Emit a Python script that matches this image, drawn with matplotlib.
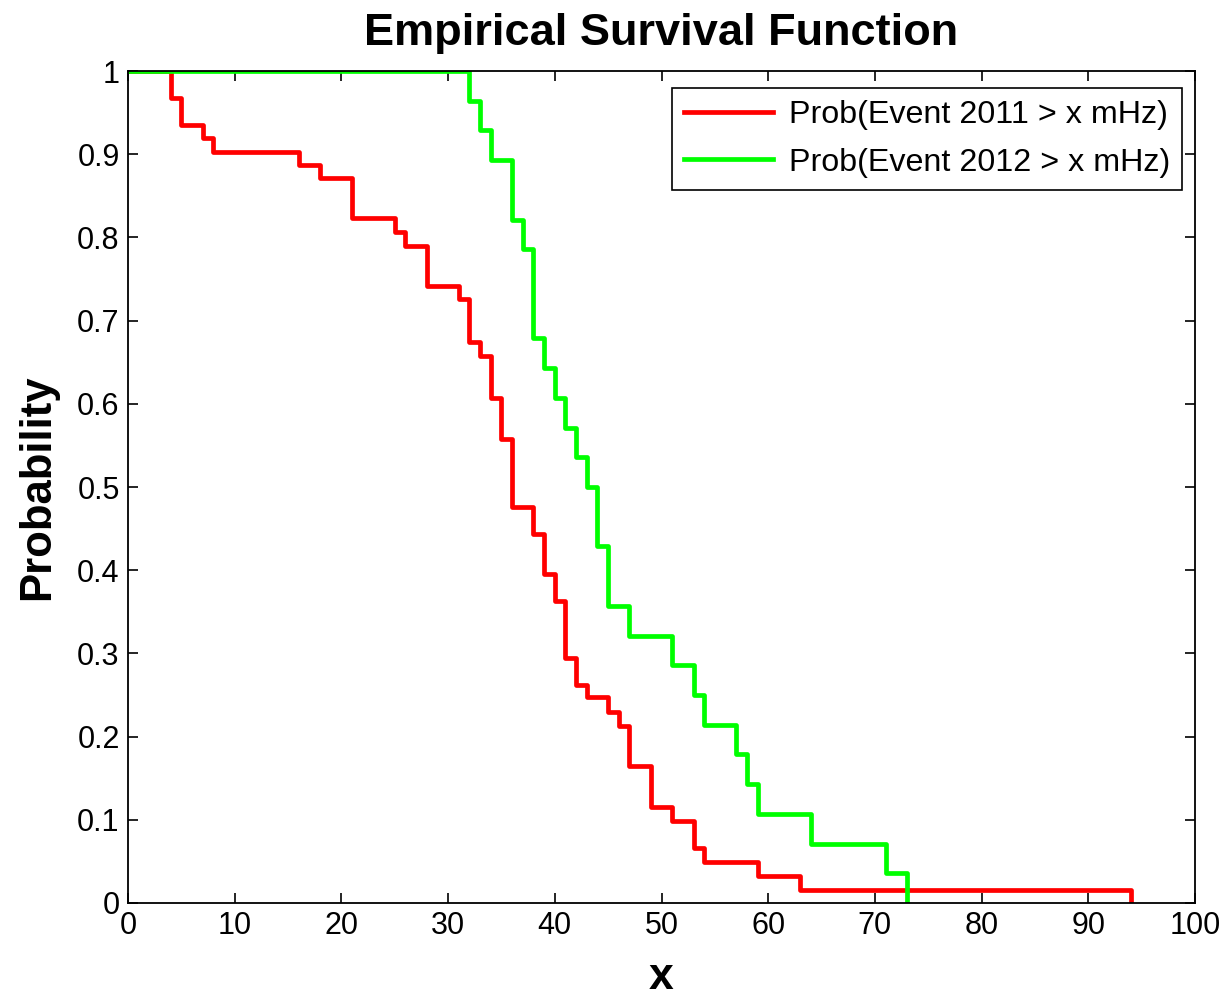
import matplotlib
matplotlib.use("Agg")
import matplotlib.pyplot as plt

plt.rcParams['font.family'] = ['Liberation Sans', 'DejaVu Sans']

# empirical survival steps (x where it drops, level after the drop)
x_2011 = [0, 4, 5, 7, 8, 16, 18, 21, 25, 26, 28, 31, 32, 33, 34, 35, 36, 38,
          39, 40, 41, 42, 43, 45, 46, 47, 49, 51, 53, 54, 59, 63, 94]
s_2011 = [1.0, 0.968, 0.935, 0.919, 0.903, 0.887, 0.871, 0.823, 0.806, 0.790,
          0.742, 0.726, 0.674, 0.658, 0.607, 0.558, 0.476, 0.444, 0.395, 0.363,
          0.294, 0.262, 0.247, 0.230, 0.213, 0.165, 0.115, 0.099, 0.066, 0.049,
          0.033, 0.016, 0.0]

x_2012 = [0, 32, 33, 34, 36, 37, 38, 39, 40, 41, 42, 43, 44, 45, 47, 51, 53,
          54, 57, 58, 59, 64, 71, 73]
s_2012 = [1.0, 0.964, 0.929, 0.893, 0.821, 0.786, 0.679, 0.643, 0.607, 0.571,
          0.536, 0.500, 0.429, 0.357, 0.321, 0.286, 0.250, 0.214, 0.179, 0.143,
          0.107, 0.071, 0.036, 0.0]

labels = ['Prob(Event 2011 > x mHz)', 'Prob(Event 2012 > x mHz)']
xticks = list(range(0, 101, 10))
yticks = [0, 0.1, 0.2, 0.3, 0.4, 0.5, 0.6, 0.7, 0.8, 0.9, 1]
ytick_labels = ['0', '0.1', '0.2', '0.3', '0.4', '0.5', '0.6', '0.7', '0.8', '0.9', '1']

fig = plt.figure(figsize=(12.25, 9.97), dpi=100)
ax = fig.add_axes([128 / 1225, 1 - 903 / 997, 1067 / 1225, 832 / 997])

ax.step(x_2011, s_2011, where='post', color='#ff0000', lw=3.4, label=labels[0])
ax.step(x_2012, s_2012, where='post', color='#00ff00', lw=3.4, label=labels[1])

ax.set_xlim(0, 100)
ax.set_ylim(0, 1)
ax.set_xticks(xticks)
ax.set_yticks(yticks)
ax.set_yticklabels(ytick_labels)
ax.tick_params(direction='in', length=7, width=1.2, top=True, right=True,
               labelsize=22, pad=6)
for sp in ax.spines.values():
    sp.set_linewidth(1.3)

ax.set_title('Empirical Survival Function', fontsize=32.5, fontweight='bold', pad=19)
ax.set_xlabel('x', fontsize=32, fontweight='bold', labelpad=11)
ax.set_ylabel('Probability', fontsize=31.5, fontweight='bold', labelpad=14)

leg = ax.legend(loc='upper right', bbox_to_anchor=(0.988, 0.98), borderaxespad=0,
                fontsize=23.2, handlelength=2.75, handletextpad=0.5, borderpad=0.38,
                labelspacing=0.55, fancybox=False, framealpha=1)
leg.get_frame().set_edgecolor('black')
leg.get_frame().set_linewidth(1.2)

fig.savefig('out.png', dpi=100)
